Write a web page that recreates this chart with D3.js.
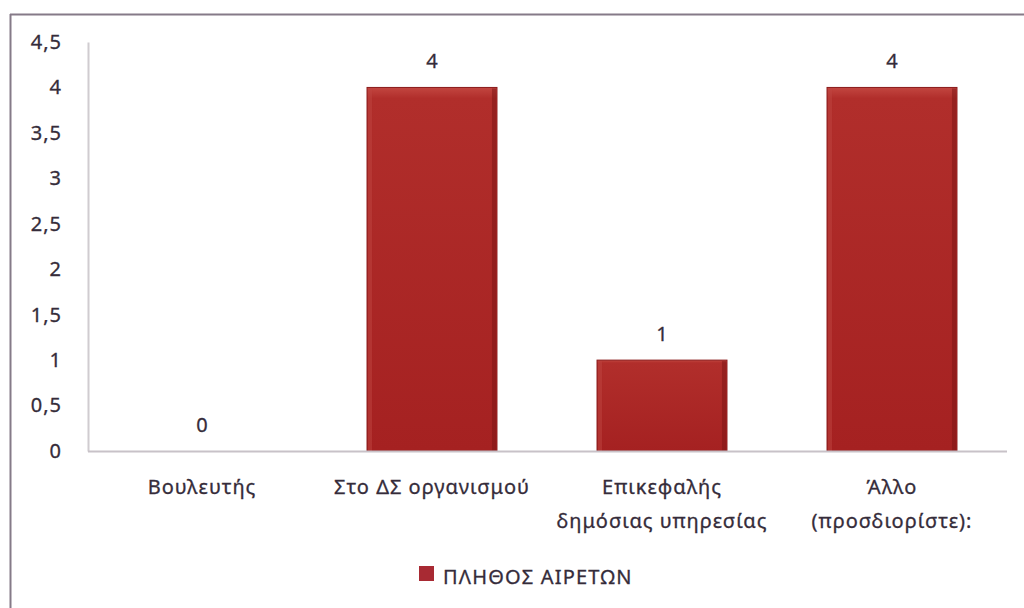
<!DOCTYPE html>
<html><head><meta charset="utf-8">
<script src="https://cdn.jsdelivr.net/npm/d3@7"></script>
<style>body{margin:0;background:#fff}svg{display:block}</style>
</head><body>
<svg id="c" width="1024" height="608"></svg>
<script>
const categories = [["Βουλευτής"], ["Στο ΔΣ οργανισμού"], ["Επικεφαλής", "δημόσιας υπηρεσίας"], ["Άλλο", "(προσδιορίστε):"]];
const values = [0, 4, 1, 4];
const tickValues = [0, 0.5, 1, 1.5, 2, 2.5, 3, 3.5, 4, 4.5];
const seriesName = "ΠΛΗΘΟΣ ΑΙΡΕΤΩΝ";

const svg = d3.select("#c");
const font = "'Noto Sans', sans-serif";
const textCol = "#352c3a";
const fs = 20;
const ls = 1;

const defs = svg.append("defs");
const g1 = defs.append("linearGradient").attr("id","gv").attr("x1",0).attr("x2",0).attr("y1",0).attr("y2",1);
g1.append("stop").attr("offset",0).attr("stop-color","#c24640");
g1.append("stop").attr("offset",0.03).attr("stop-color","#b12e2b");
g1.append("stop").attr("offset",1).attr("stop-color","#a52121");

// frame
svg.append("line").attr("x1",10).attr("x2",1024).attr("y1",14.5).attr("y2",14.5).attr("stroke","#857a88").attr("stroke-width",2);
svg.append("line").attr("x1",10.5).attr("x2",10.5).attr("y1",14).attr("y2",608).attr("stroke","#857a88").attr("stroke-width",2);

const x = d3.scaleBand().domain(d3.range(values.length)).range([87, 1007]).paddingInner(0.435).paddingOuter(0.2175);
const y = d3.scaleLinear().domain([0, 4.5]).range([451, 42]);

// y axis
const yAxis = d3.axisLeft(y).tickValues(tickValues).tickSize(0).tickPadding(26)
  .tickFormat(d => String(d).replace(".", ","));
const ya = svg.append("g").attr("transform","translate(88,0)").call(yAxis);
ya.select(".domain").attr("stroke","#d0ccd0").attr("stroke-width",2);
ya.selectAll("text").attr("font-family",font).attr("font-size",fs).attr("fill",textCol).attr("letter-spacing",ls)
  .attr("stroke",textCol).attr("stroke-width",0.3);

// bars
svg.selectAll("rect.bar").data(values).join("rect").attr("class","bar")
  .attr("x",(d,i)=>x(i)).attr("width",x.bandwidth())
  .attr("y",d=>y(d)).attr("height",d=>y(0)-y(d))
  .attr("fill","url(#gv)").attr("stroke","#8a1a1a").attr("stroke-width",1);
values.forEach((v,i)=>{
  if(v<=0) return;
  svg.append("rect").attr("x",x(i)+1).attr("y",y(v)+1).attr("width",4).attr("height",y(0)-y(v)-1).attr("fill","#bd443f").attr("opacity",0.5);
  svg.append("rect").attr("x",x(i)+x.bandwidth()-5).attr("y",y(v)+1).attr("width",4).attr("height",y(0)-y(v)-1).attr("fill","#7a1414").attr("opacity",0.5);
});

// x axis
svg.append("line").attr("x1",88).attr("x2",1007).attr("y1",451.5).attr("y2",451.5).attr("stroke","#c8c2c8").attr("stroke-width",2);

// value labels
svg.selectAll("text.val").data(values).join("text").attr("class","val")
  .attr("x",(d,i)=>x(i)+x.bandwidth()/2).attr("y",d=>y(d)-19)
  .attr("text-anchor","middle").attr("font-family",font).attr("font-size",fs).attr("fill",textCol)
  .attr("stroke",textCol).attr("stroke-width",0.3).text(d=>d);

// category labels
const cl = svg.selectAll("text.cat").data(categories).join("text").attr("class","cat")
  .attr("x",(d,i)=>x(i)+x.bandwidth()/2).attr("y",494)
  .attr("text-anchor","middle").attr("font-family",font).attr("font-size",fs).attr("fill",textCol).attr("letter-spacing",ls)
  .attr("stroke",textCol).attr("stroke-width",0.3);
cl.each(function(lines,i){
  d3.select(this).selectAll("tspan").data(lines).join("tspan")
    .attr("x",x(i)+x.bandwidth()/2).attr("dy",(d,j)=>j===0?0:34).text(d=>d);
});

// legend
svg.append("rect").attr("x",419).attr("y",566).attr("width",15).attr("height",15).attr("fill","#a82a33");
svg.append("text").attr("x",443).attr("y",584).attr("font-family",font).attr("font-size",20).attr("fill",textCol)
  .attr("letter-spacing",1.2).attr("stroke",textCol).attr("stroke-width",0.3).text(seriesName);
</script>
</body></html>
